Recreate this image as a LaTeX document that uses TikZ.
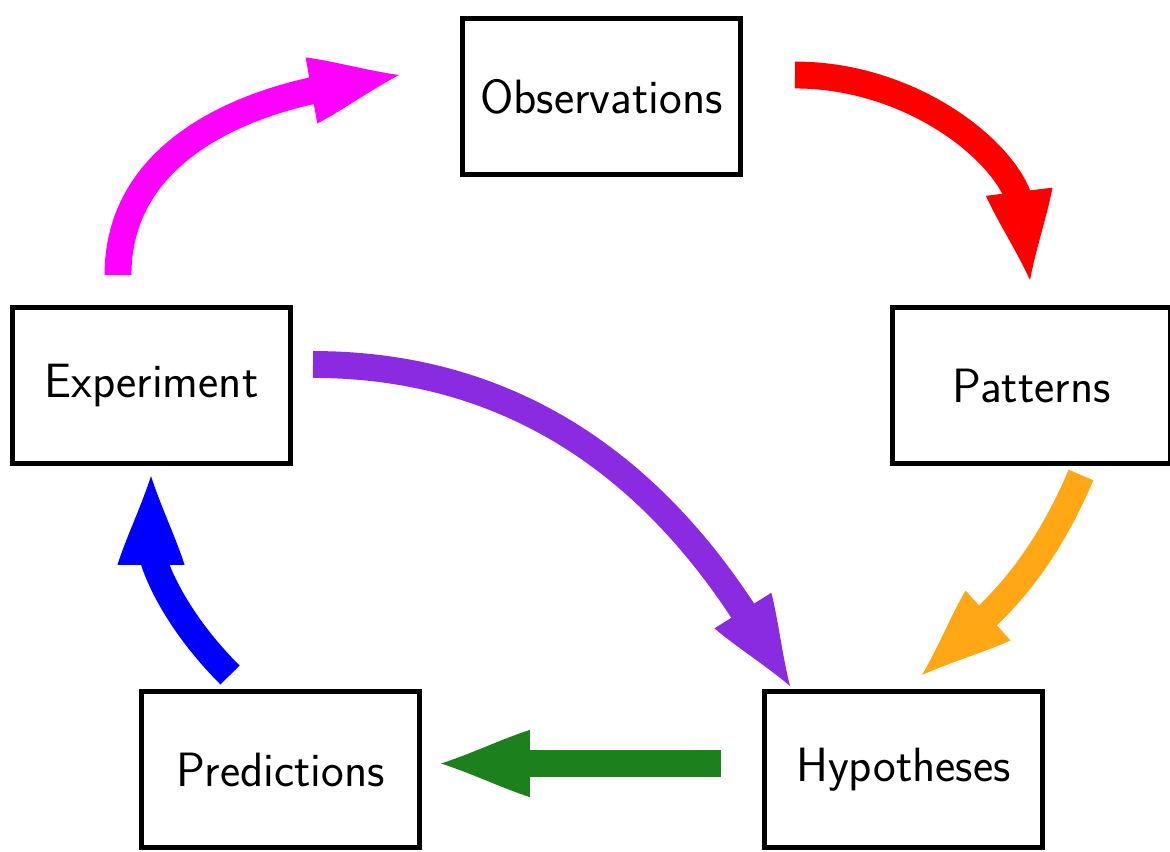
\documentclass[tikz,border=0pt]{standalone}
\usetikzlibrary{calc,arrows.meta}
\pgfdeclarearrow{
  name = Concave,
  setup code = {
    \pgfarrowssettipend{50.6pt}
    \pgfarrowssetlineend{10pt}
    \pgfarrowssetbackend{0pt}
    \pgfarrowsupperhullpoint{50.6pt}{0pt}
    \pgfarrowsupperhullpoint{0pt}{19.1pt}
  },
  drawing code = {
    \pgfpathmoveto{\pgfqpoint{50.6pt}{0pt}}
    \pgfpathcurveto{\pgfqpoint{32.9pt}{5.7pt}}{\pgfqpoint{15.2pt}{14.3pt}}{\pgfqpoint{0pt}{19.1pt}}
    \pgfpathlineto{\pgfqpoint{0pt}{-19.1pt}}
    \pgfpathcurveto{\pgfqpoint{15.2pt}{-14.3pt}}{\pgfqpoint{32.9pt}{-5.7pt}}{\pgfqpoint{50.6pt}{0pt}}
    \pgfpathclose
    \pgfusepathqfill
  }
}
\definecolor{cmag}{RGB}{255,0,255}
\definecolor{cred}{RGB}{255,0,0}
\definecolor{corange}{RGB}{255,167,20}
\definecolor{cgreen}{RGB}{28,128,28}
\definecolor{cblue}{RGB}{0,0,255}
\definecolor{cpurple}{RGB}{138,43,226}
\begin{document}
\begin{tikzpicture}[
  box/.style={draw=black, line width=3.1pt, minimum width=5.55cm, minimum height=3.11cm,
    inner sep=0pt, font=\fontsize{27.4}{32}\selectfont\sffamily},
  flow/.style={line width=15.3pt, -Concave, line cap=butt},
]
\useasboundingbox (0,0) rectangle (23.4,17.02);
\node[box] (obs) at (12.03,15.09) {Observations};
\node[box] (exp) at (3.03,9.31) {Experiment};
\node[box] (pat) at (20.63,9.31) {Patterns};
\node[box] (pre) at (5.61,1.63) {Predictions};
\node[box] (hyp) at (18.07,1.63) {Hypotheses};

\draw[flow, cmag] ($(exp.center)+(-0.67,2.21)$) to[out=90,in=190] ($(obs.center)+(-4.05,0.43)$);
\draw[flow, cred] ($(obs.center)+(3.87,0.43)$) to[out=0,in=97] ($(pat.center)+(-0.03,2.11)$);
\draw[flow, corange] ($(pat.center)+(0.99,-1.79)$) to[out=247,in=42] ($(hyp.center)+(0.37,1.89)$);
\draw[flow, cgreen] ($(hyp.center)+(-3.65,0.12)$) -- ($(pre.center)+(3.21,0.12)$);
\draw[flow, cblue] ($(pre.center)+(-1.01,1.89)$) to[out=135,in=270] ($(exp.center)+(-0.01,-1.81)$);
\draw[flow, cpurple] ($(exp.center)+(3.23,0.42)$) to[out=0,in=122] ($(hyp.center)+(-2.27,1.67)$);
\end{tikzpicture}
\end{document}
